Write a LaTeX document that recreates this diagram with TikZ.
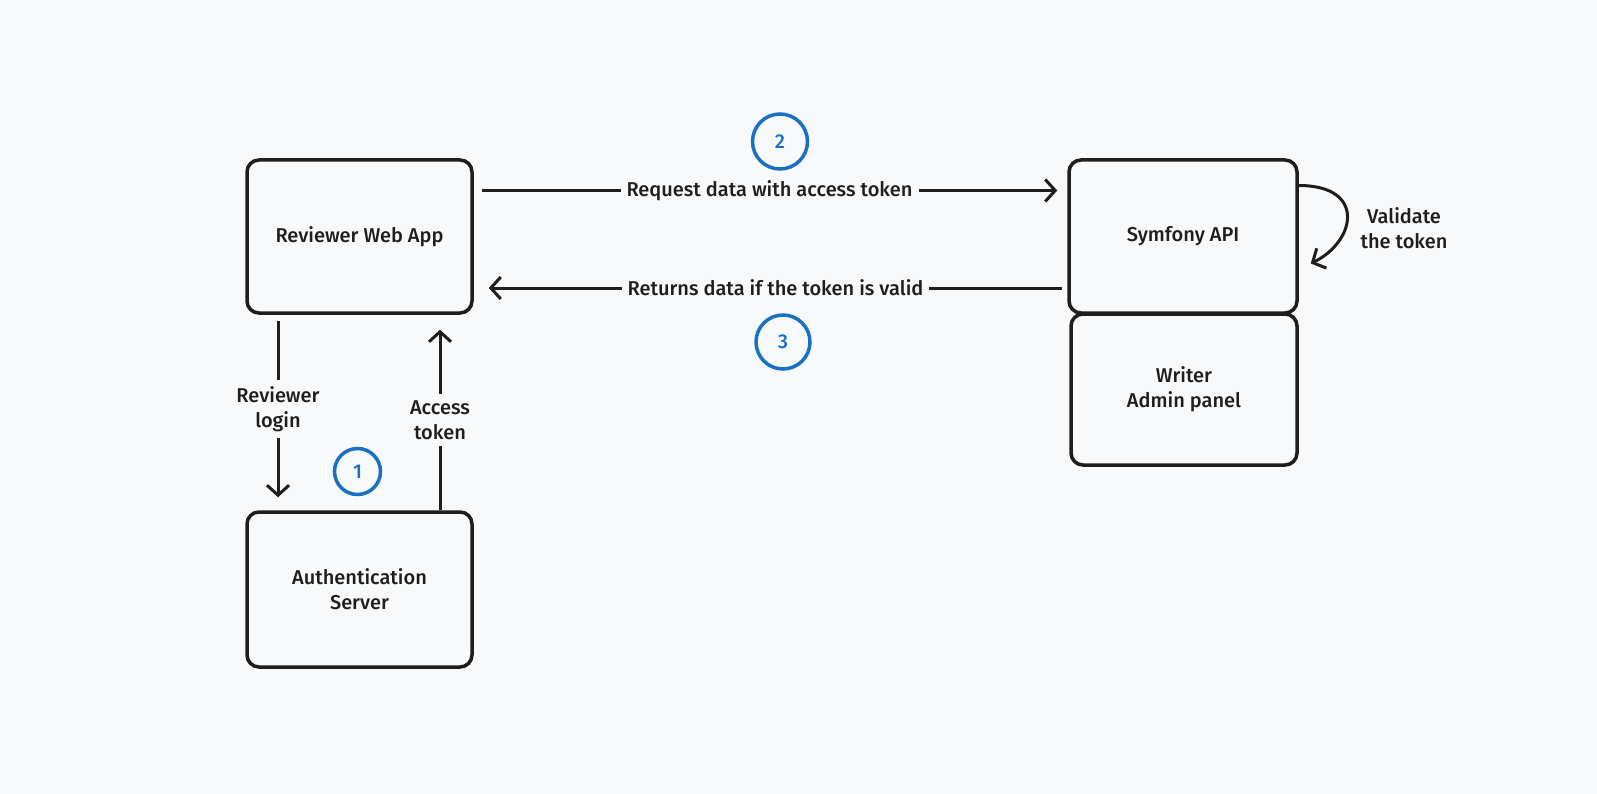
\documentclass[tikz,border=0pt]{standalone}
\usepackage{fontspec}
\setmainfont{Fira Sans}[UprightFont=* Medium, BoldFont=* SemiBold]
\usetikzlibrary{arrows.meta}
\definecolor{ink}{HTML}{1E1E1E}
\definecolor{paper}{HTML}{F8F9FA}
\definecolor{stepblue}{HTML}{1971C2}
\tikzset{
	box/.style={draw=ink, line width=3.5pt, rounded corners=12pt, minimum width=225pt, minimum height=153pt, align=center, text=ink, font=\fontsize{20}{25}\selectfont},
	conn/.style={draw=ink, line width=3pt, -{Straight Barb[length=10pt,width=22pt]}},
	lbl/.style={fill=paper, inner sep=6pt, align=center, text=ink, font=\fontsize{20}{25}\selectfont},
	stepnum/.style={circle, draw=stepblue, line width=3.5pt, text=stepblue, inner sep=0pt, font=\fontsize{20}{24}\selectfont}
}
\begin{document}
\begin{tikzpicture}[x=1pt,y=-1pt]
	\fill[paper] (0,0) rectangle (1597,794);
	\useasboundingbox (0,0) rectangle (1597,794);

	\node[box] (web) at (359.5,236.5) {Reviewer Web App};
	\node[box, minimum height=155pt] (auth) at (359.5,589.5) {Authentication\\Server};
	\node[box, minimum width=228pt] (api) at (1183,236.5) {Symfony API};
	\node[box, minimum width=226pt, minimum height=151pt] (writer) at (1184,389.5) {Writer\\Admin panel};

	\draw[conn] ([shift={(8,-46)}]web.east) -- node[lbl]{Request data with access token} ([shift={(-10,-46)}]api.west);
	\draw[conn] ([shift={(-5,51.5)}]api.west) -- node[lbl]{Returns data if the token is valid} ([shift={(15,51.5)}]web.east);

	\draw[conn] ([shift={(-81.5,6)}]web.south) -- node[lbl]{Reviewer\\login} ([shift={(-81.5,-13)}]auth.north);
	\draw[conn] ([shift={(80.5,0)}]auth.north) -- node[lbl]{Access\\token} ([shift={(80.5,15)}]web.south);

	\draw[conn] ([shift={(0,-51)}]api.east) .. controls +(68,0) and +(45,-22) .. ([shift={(12,27)}]api.east);
	\node[lbl, fill=none] (valid) at (1404,228) {Validate\\the token};

	\node[stepnum, minimum size=55pt] (s2) at (780,141.5) {2};
	\node[stepnum, minimum size=54pt] (s3) at (783,342) {3};
	\node[stepnum, minimum size=46pt] (s1) at (357.5,471.5) {1};
\end{tikzpicture}
\end{document}
